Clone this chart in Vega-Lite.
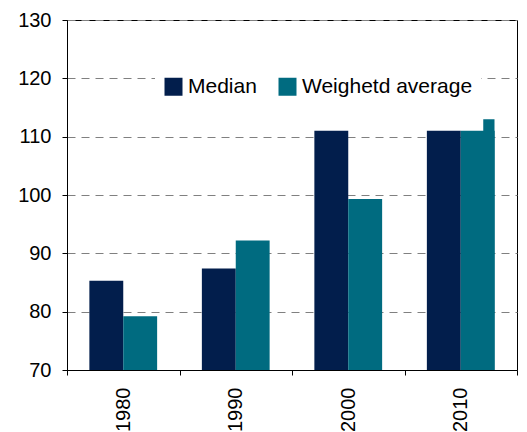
{
  "$schema": "https://vega.github.io/schema/vega-lite/v6.json",
  "width": 450,
  "height": 350,
  "autosize": {"type": "none"},
  "padding": {"left": 67, "top": 20, "right": 10, "bottom": 62},
  "background": "white",
  "config": {
    "font": "Liberation Sans",
    "view": {"stroke": "#000000", "strokeWidth": 1},
    "axis": {
      "labelFont": "Liberation Sans",
      "labelFontSize": 20,
      "labelColor": "#000000",
      "domainColor": "#000000",
      "tickColor": "#000000",
      "tickSize": 5,
      "title": null
    }
  },
  "datasets": {
    "bars": [
      {"year": "1980", "series": "Median", "value": 85.3},
      {"year": "1980", "series": "Weighetd average", "value": 79.2},
      {"year": "1990", "series": "Median", "value": 87.4},
      {"year": "1990", "series": "Weighetd average", "value": 92.2},
      {"year": "2000", "series": "Median", "value": 111},
      {"year": "2000", "series": "Weighetd average", "value": 99.3},
      {"year": "2010", "series": "Median", "value": 111},
      {"year": "2010", "series": "Weighetd average", "value": 111}
    ],
    "step": [
      {"year": "2010", "slot": "8", "value": 113}
    ]
  },
  "resolve": {"scale": {"xOffset": "independent"}},
  "layer": [
    {
      "data": {"name": "bars"},
      "mark": {"type": "bar", "clip": true},
      "encoding": {
        "x": {
          "field": "year",
          "type": "nominal",
          "scale": {"paddingInner": 0, "paddingOuter": 0},
          "axis": {
            "labelAngle": -90,
            "labelAlign": "right",
            "labelBaseline": "middle",
            "labelPadding": 12,
            "tickBand": "extent",
            "grid": false
          }
        },
        "xOffset": {
          "field": "series",
          "type": "nominal",
          "scale": {"paddingInner": 0, "paddingOuter": 0.66}
        },
        "y": {
          "field": "value",
          "type": "quantitative",
          "scale": {"domain": [70, 130], "nice": false, "zero": false},
          "axis": {
            "values": [70, 80, 90, 100, 110, 120, 130],
            "labelPadding": 11,
            "grid": true,
            "gridColor": "#808080",
            "gridDash": [8, 6],
            "gridWidth": 1
          }
        },
        "color": {
          "field": "series",
          "type": "nominal",
          "scale": {"domain": ["Median", "Weighetd average"], "range": ["#021E4C", "#006B80"]},
          "legend": {
            "title": null,
            "orient": "none",
            "direction": "horizontal",
            "legendX": 88,
            "legendY": 48,
            "padding": 8,
            "fillColor": "white",
            "symbolType": "square",
            "symbolSize": 324,
            "symbolStrokeWidth": 0,
            "symbolOpacity": 1,
            "labelFont": "Liberation Sans",
            "labelFontSize": 21,
            "labelColor": "#000000",
            "labelOffset": 4,
            "columnPadding": 20,
            "labelLimit": 300
          }
        }
      }
    },
    {
      "data": {"name": "step"},
      "mark": {"type": "bar", "clip": true, "color": "#006B80"},
      "encoding": {
        "x": {"field": "year", "type": "nominal"},
        "xOffset": {
          "field": "slot",
          "type": "nominal",
          "scale": {"domain": ["1", "2", "3", "4", "5", "6", "7", "8", "9", "10"], "paddingInner": 0, "paddingOuter": 0}
        },
        "y": {"field": "value", "type": "quantitative"}
      }
    }
  ]
}
